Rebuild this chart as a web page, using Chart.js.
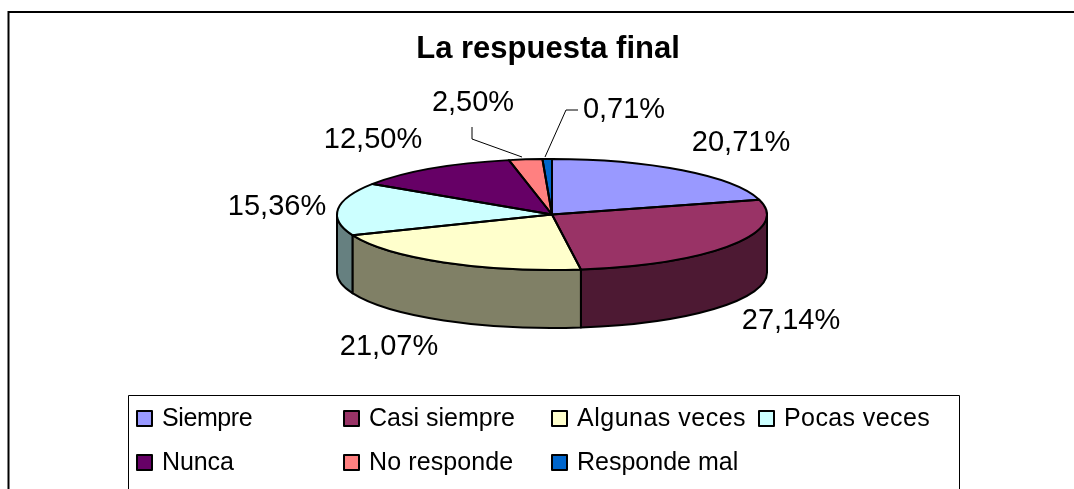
<!DOCTYPE html>
<html><head><meta charset="utf-8">
<style>html,body{margin:0;padding:0;background:#fff}#w{position:absolute;left:0;top:0;width:1074px;height:489px}</style>
<script src="https://cdn.jsdelivr.net/npm/chart.js@4"></script>
</head><body><div id="w"><canvas id="c" width="1074" height="489"></canvas></div>
<script>
const titleText = 'La respuesta final';
const categories = ['Siempre','Casi siempre','Algunas veces','Pocas veces','Nunca','No responde','Responde mal'];
const values = [20.71,27.14,21.07,15.36,12.50,2.50,0.71];
const topColors = ['#9999FF','#993366','#FFFFCC','#CCFFFF','#660066','#FF8080','#0066CC'];
const sideColors = ['#4D4D80','#4D1933','#808066','#668080','#330033','#804040','#003366'];

const PIE = {cx:552, cy:214.5, rx:215, ry:55.5, depth:58};
const labelPos = [[741,143],[791,321],[389,347],[277,207],[373,140],[473,103],[624,110]];
const leaders = [null,null,null,null,null,[[472,127],[472,139],[522,157]],[[578,110],[566,110],[545,157]]];
const legendCols = [137,344,552,759];
const legendRows = [419,463];
const legendTracking = [-0.4,0,0.5,0.4,-0.1,0.1,0];
const FONT = '"Liberation Sans", Arial, sans-serif';

function pct(v){return v.toFixed(2).replace('.',',')+'%';}

const pie3d = {
  id:'pie3d',
  beforeDraw(chart){
    const ctx=chart.ctx;
    ctx.save();
    ctx.fillStyle='#fff';ctx.fillRect(0,0,chart.width,chart.height);
    ctx.strokeStyle='#000';ctx.lineWidth=2;
    ctx.beginPath();
    ctx.moveTo(8.5,500);ctx.lineTo(8.5,12);ctx.lineTo(1080,12);
    ctx.stroke();
    ctx.restore();
  },
  beforeDatasetsDraw(chart){
    const ctx=chart.ctx, arcs=chart.getDatasetMeta(0).data;
    ctx.save();
    ctx.lineWidth=2;ctx.strokeStyle='#000';ctx.lineJoin='round';
    arcs.forEach((arc,i)=>{
      const s=Math.max(arc.startAngle,0), e=Math.min(arc.endAngle,Math.PI);
      if(e<=s) return;
      ctx.beginPath();
      ctx.ellipse(PIE.cx,PIE.cy,PIE.rx,PIE.ry,0,s,e);
      ctx.ellipse(PIE.cx,PIE.cy+PIE.depth,PIE.rx,PIE.ry,0,e,s,true);
      ctx.closePath();
      ctx.fillStyle=sideColors[i];ctx.fill();ctx.stroke();
    });
    ctx.restore();
    const a0=arcs[0];
    ctx.save();
    ctx.translate(PIE.cx,PIE.cy);
    ctx.scale(PIE.rx/a0.outerRadius,PIE.ry/a0.outerRadius);
    ctx.translate(-a0.x,-a0.y);
  },
  afterDatasetsDraw(chart){
    const ctx=chart.ctx, arcs=chart.getDatasetMeta(0).data;
    ctx.restore();
    ctx.save();
    ctx.lineWidth=2;ctx.strokeStyle='#000';ctx.lineJoin='round';
    arcs.forEach(arc=>{
      ctx.beginPath();
      ctx.moveTo(PIE.cx,PIE.cy);
      ctx.ellipse(PIE.cx,PIE.cy,PIE.rx,PIE.ry,0,arc.startAngle,arc.endAngle);
      ctx.closePath();
      ctx.stroke();
    });
    // data labels and leader lines
    ctx.fillStyle='#000';
    ctx.font='29px '+FONT;
    ctx.textAlign='center';ctx.textBaseline='middle';
    values.forEach((v,i)=>ctx.fillText(pct(v),labelPos[i][0],labelPos[i][1]));
    ctx.lineWidth=1;
    leaders.forEach(l=>{
      if(!l) return;
      ctx.beginPath();
      l.forEach((p,k)=>k?ctx.lineTo(p[0],p[1]):ctx.moveTo(p[0],p[1]));
      ctx.stroke();
    });
    // legend
    ctx.lineWidth=1;
    ctx.strokeRect(128.5,395.5,831,120);
    ctx.font='25px '+FONT;ctx.textAlign='left';
    categories.forEach((c,i)=>{
      const col=i<4?i:i-4, row=i<4?0:1;
      const x=legendCols[col], y=legendRows[row];
      ctx.fillStyle=topColors[i];
      ctx.fillRect(x,y-8,15,15);
      ctx.lineWidth=2;ctx.strokeStyle='#000';
      ctx.strokeRect(x,y-8,15,15);
      ctx.fillStyle='#000';
      ctx.letterSpacing=legendTracking[i]+'px';
      ctx.fillText(c,x+25,y);
      ctx.letterSpacing='0px';
    });
    ctx.restore();
  }
};

new Chart(document.getElementById('c'),{
  type:'pie',
  data:{labels:categories,datasets:[{data:values,backgroundColor:topColors,borderWidth:0,clip:false,radius:215}]},
  options:{
    responsive:false,animation:false,
    events:[],
    layout:{padding:{left:22,right:0,top:0,bottom:0}},
    plugins:{
      legend:{display:false},
      tooltip:{enabled:false},
      title:{display:true,text:titleText,color:'#000',font:{family:FONT,size:31,weight:'bold'},padding:{top:31,bottom:10}}
    }
  },
  plugins:[pie3d]
});
</script></body></html>
